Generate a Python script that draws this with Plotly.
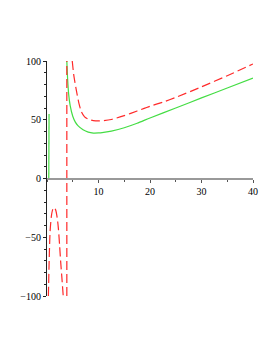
import plotly.graph_objects as go

# Green curve (solid)
green_x1 = [0.35, 0.4]
green_y1 = [0, 55]
green_x2 = [3.85, 4.0, 4.2, 4.5, 5.0, 5.5, 6, 7, 8, 9, 10, 11, 12.5, 15, 17.5, 20, 25, 30, 35, 40]
green_y2 = [100, 85, 72, 62, 53, 48, 45, 41.5, 39.5, 38.7, 38.8, 39.3, 40.3, 43.2, 47, 51.5, 60, 68.6, 77, 85.4]

# Red curve (dashed)
red_x_low = [0.27, 0.42, 0.6, 0.85, 1.1, 1.4, 1.7, 2.0, 2.2, 2.45, 2.64, 2.9, 3.15]
red_y_low = [-100, -70, -45, -32, -26.5, -24.6, -27, -34, -42, -57, -70, -85, -100]
red_x_vert = [3.85, 3.85]
red_y_vert = [-100, 100]
red_x_up = [4.9, 5.2, 5.7, 6.2, 6.7, 7.3, 8, 9, 10, 11, 12.5, 15, 17.5, 20, 22.5, 25, 30, 35, 40]
red_y_up = [100, 88, 75, 64, 56.5, 52.5, 50.5, 49.3, 49, 49.2, 50.2, 53.5, 57.5, 61.5, 65, 69, 78, 87.5, 97.5]

x_ticks = [10, 20, 30, 40]
y_ticks = [-100, -50, 0, 50, 100]

GREEN = "#44dd44"
RED = "#ff2a2a"
DASH = "9px,4px"

fig = go.Figure()
fig.add_trace(go.Scatter(x=green_x1, y=green_y1, mode="lines",
                         line=dict(color=GREEN, width=1.2), showlegend=False))
fig.add_trace(go.Scatter(x=green_x2, y=green_y2, mode="lines",
                         line=dict(color=GREEN, width=1.2, shape="spline", smoothing=0.6), showlegend=False))
fig.add_trace(go.Scatter(x=red_x_low, y=red_y_low, mode="lines",
                         line=dict(color=RED, width=1.2, dash=DASH, shape="spline", smoothing=0.6), showlegend=False))
fig.add_trace(go.Scatter(x=red_x_vert, y=red_y_vert, mode="lines",
                         line=dict(color=RED, width=1.2, dash=DASH), showlegend=False))
fig.add_trace(go.Scatter(x=red_x_up, y=red_y_up, mode="lines",
                         line=dict(color=RED, width=1.2, dash=DASH, shape="spline", smoothing=0.6), showlegend=False))

font = dict(family="Liberation Serif, Times New Roman, serif", size=10, color="black")

fig.update_layout(
    width=277, height=358,
    margin=dict(l=36, r=32, t=53, b=70),
    paper_bgcolor="white", plot_bgcolor="white",
    font=font,
    xaxis=dict(range=[0, 40], tickvals=x_ticks, ticks="outside", ticklen=3,
               tickcolor="#555", showline=True, linecolor="#999", linewidth=2,
               showgrid=False, zeroline=False, anchor="free", position=0.5,
               minor=dict(dtick=5, tick0=0, ticks="outside", ticklen=2, tickcolor="#555"),
               tickfont=font),
    yaxis=dict(range=[-100, 100], tickvals=y_ticks, ticks="outside", ticklen=3,
               tickcolor="#222", showline=True, linecolor="#222", linewidth=1,
               showgrid=False, zeroline=False,
               minor=dict(dtick=10, tick0=0, ticks="outside", ticklen=2, tickcolor="#222"),
               tickfont=font),
)

fig.write_html("out.html")
